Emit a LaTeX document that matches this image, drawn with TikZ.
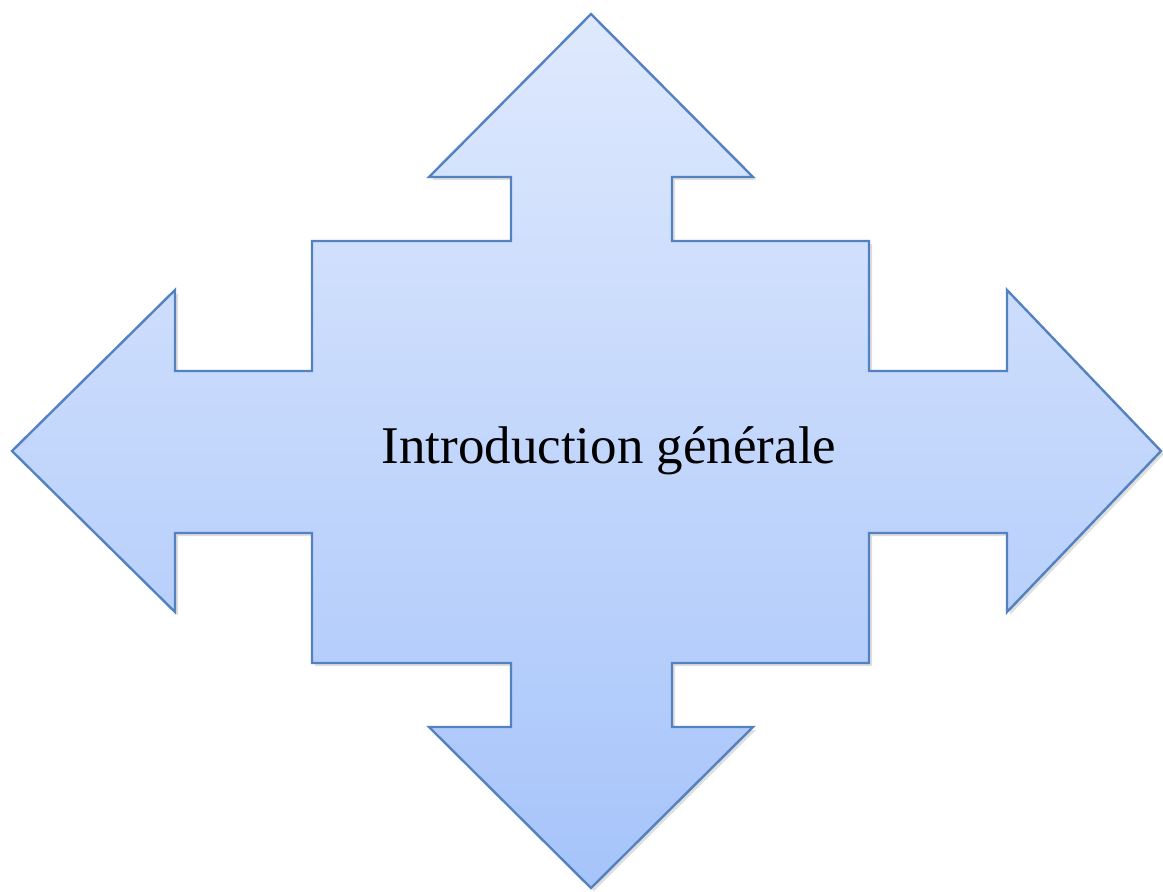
\documentclass[tikz,border=0pt]{standalone}
\usepackage{fontspec}
\setmainfont{Liberation Serif}
\usetikzlibrary{shadows}
\definecolor{arrowtop}{RGB}{223,233,253}
\definecolor{arrowbottom}{RGB}{166,196,250}
\definecolor{arrowline}{RGB}{84,130,192}
\begin{document}
\begin{tikzpicture}[
				x = 0.5pt, y = -0.5pt, % one unit per pixel
				crossarrow/.style = {
					draw = arrowline,
					line width = 1.2pt,
					line join = miter,
					top color = arrowtop,
					bottom color = arrowbottom,
					drop shadow = {shadow xshift = 1.5pt, shadow yshift = -1.5pt, opacity = 0.25}
				}
			]
			
			\useasboundingbox (0,0) rectangle (1163,891);
			
			% four way arrow
			\path[crossarrow] (591,14) -- (753,177) -- (672,177) -- (672,241)
				-- (869,241) -- (869,371) -- (1007,371) -- (1007,290)
				-- (1161,451) -- (1007,612) -- (1007,533) -- (869,533)
				-- (869,663) -- (672,663) -- (672,727) -- (753,727)
				-- (591,888) -- (429,727) -- (511,727) -- (511,663)
				-- (312,663) -- (312,533) -- (175,533) -- (175,612)
				-- (12,451) -- (175,290) -- (175,371) -- (312,371)
				-- (312,241) -- (511,241) -- (511,177) -- (429,177) -- cycle;
			
			\node[font = \fontsize{26.5pt}{30pt}\selectfont] (title) at (609,451) {Introduction générale};
		\end{tikzpicture}
\end{document}
